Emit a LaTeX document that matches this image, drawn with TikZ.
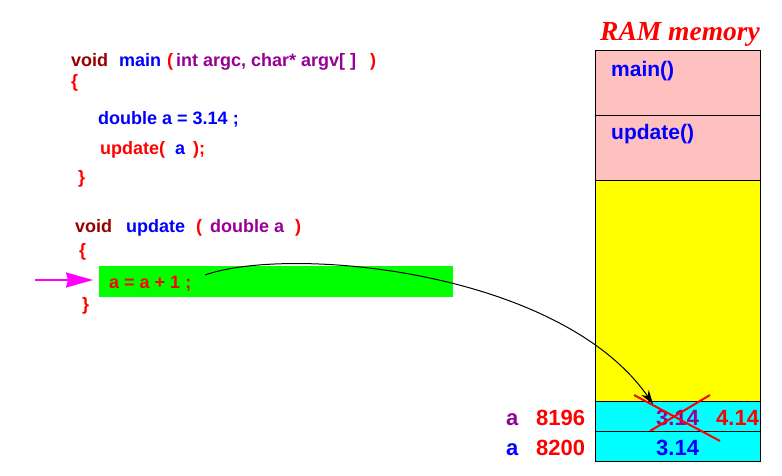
\documentclass[tikz,border=0pt]{standalone}
\usepackage{fontspec}
\setmainfont{Liberation Sans}
\newfontfamily\titlefont{Liberation Serif}
\usetikzlibrary{positioning, arrows.meta}

\definecolor{darkred}{RGB}{150,0,0}
\definecolor{argpurple}{RGB}{150,0,150}
\definecolor{cellpink}{RGB}{255,192,192}
\definecolor{codered}{RGB}{255,0,0}
\definecolor{codeblue}{RGB}{0,0,255}
\definecolor{hlgreen}{RGB}{0,255,0}
\definecolor{heapyellow}{RGB}{255,255,0}
\definecolor{stackcyan}{RGB}{0,255,255}
\definecolor{ptrmagenta}{RGB}{255,0,255}

\tikzset{
	code/.style={anchor=base west, inner sep=0, font=\fontsize{18}{21}\selectfont\bfseries},
	memtext/.style={anchor=base west, inner sep=0, font=\fontsize{21}{24}\selectfont\bfseries, codeblue},
	addr/.style={anchor=base west, inner sep=0, font=\fontsize{22}{26}\selectfont\bfseries},
	cell/.style={draw, line width=1pt, outer sep=0, minimum width=165pt, anchor=north west, inner sep=0},
}

\begin{document}
\begin{tikzpicture}[x=1pt, y=-1pt]
\useasboundingbox (0,0) rectangle (782,476);

% main()
\node[code, darkred] (void1) at (71,67) {void};
\node[code, codeblue] (fmain) at (119,67) {main};
\node[code, codered] (op1) at (167,67) {(};
\node[code, argpurple] (args) at (176,67) {int argc, char* argv[ ]};
\node[code, codered] (cp1) at (370,67) {)};
\node[code, codeblue] (decl) at (98,125) {double a = 3.14 ;};
\node[code, codered] (call) at (100,155) {update(};
\node[code, codeblue] (callarg) at (175,155) {a};
\node[code, codered] (callend) at (193,155) {);};

% update()
\node[code, darkred] (void2) at (75,232) {void};
\node[code, codeblue] (fupd) at (126,232) {update};
\node[code, codered] (op2) at (196,232) {(};
\node[code, argpurple] (par) at (210,232) {double a};
\node[code, codered] (cp2) at (295,232) {)};
\node[fill=hlgreen, minimum width=354pt, minimum height=31pt, anchor=north west, inner sep=0] (hl) at (99,266) {};
\node[code, codered] (stmt) at (109,288) {a = a + 1 ;};

\foreach \n/\b/\x/\y in {ob1/\{/71/88, cb1/\}/78/183, ob2/\{/79/256, cb2/\}/82/310}
	\node[code, codered] (\n) at (\x,\y) {\b};

% RAM memory
\node[anchor=base west, inner sep=0, codered, font=\titlefont\fontsize{27.5}{30}\selectfont\bfseries\itshape] (ram) at (600,41) {RAM memory};
\node[cell, fill=cellpink, minimum height=65pt] (mmain) at (595,51) {};
\node[cell, fill=cellpink, minimum height=65pt, below=0pt of mmain] (mupd) {};
\node[cell, fill=heapyellow, minimum height=220pt, below=0pt of mupd] (heap) {};
\node[cell, fill=stackcyan, minimum height=30pt, below=0pt of heap] (cella) {};
\node[cell, fill=stackcyan, minimum height=30pt, below=0pt of cella] (cellb) {};
\node[memtext] (lmain) at (611,77) {main()};
\node[memtext] (lupd) at (611,140) {update()};

\node[addr, argpurple] (na) at (506,425) {a};
\node[addr, codered] (ad1) at (536,425) {8196};
\node[addr, codeblue] (nb) at (506,455) {a};
\node[addr, codered] (ad2) at (536,455) {8200};
\node[addr, argpurple] (old) at (656,425) {3.14};
\node[addr, codered] (new) at (716,425) {4.14};
\node[addr, codeblue] (val) at (656,455) {3.14};

% crossed out value
\draw[codered, line width=2pt] (634,395) -- (720,441);
\draw[codered, line width=2pt] (650,431) -- (710,395);

% arrows
\coordinate (ptr) at (35,280);
\draw[ptrmagenta, line width=2pt, shorten >=6pt, -{Stealth[length=27pt, width=15pt, inset=2pt]}] (ptr) -- (hl.west |- ptr);
\coordinate (from) at (205,275);
\coordinate (to) at (653,404);
\draw[line width=1pt, -{Stealth[length=14pt, width=9pt]}] (from) .. controls (290,245) and (560,270) .. (to);
\end{tikzpicture}
\end{document}
